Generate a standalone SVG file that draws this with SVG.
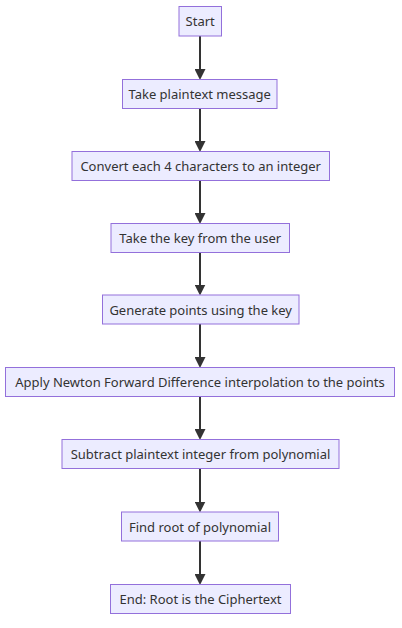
<svg xmlns="http://www.w3.org/2000/svg" width="402" height="628" viewBox="0 0 402 628">
<defs>
<style>
.node rect{fill:#ECECFF;stroke:#9370DB;stroke-width:1}
.node text{font-family:"Noto Sans","DejaVu Sans",sans-serif;font-size:13px;fill:#333;text-anchor:middle;dominant-baseline:central}
.edge{stroke:#333;stroke-width:2;fill:none}
</style>
<marker id="arrow" viewBox="0 0 10 10" refX="5" refY="5" markerWidth="11" markerHeight="11" markerUnits="userSpaceOnUse" orient="auto">
<path d="M0,0 L10,5 L0,10 z" fill="#333"/>
</marker>
</defs>
<rect width="402" height="628" fill="#fff"/>
<g id="edges">
<line class="edge" x1="200" y1="36" x2="200" y2="74.5" marker-end="url(#arrow)"/>
<line class="edge" x1="200" y1="108.5" x2="200" y2="146.5" marker-end="url(#arrow)"/>
<line class="edge" x1="200" y1="180.5" x2="200" y2="218.5" marker-end="url(#arrow)"/>
<line class="edge" x1="200" y1="252.5" x2="200" y2="290" marker-end="url(#arrow)"/>
<line class="edge" x1="200" y1="324" x2="200" y2="362.5" marker-end="url(#arrow)"/>
<line class="edge" x1="200" y1="396.5" x2="200" y2="434.5" marker-end="url(#arrow)"/>
<line class="edge" x1="200" y1="468.5" x2="200" y2="507" marker-end="url(#arrow)"/>
<line class="edge" x1="200" y1="541" x2="200" y2="579.5" marker-end="url(#arrow)"/>
</g>
<g id="start" class="node"><rect x="179" y="6.5" width="42.5" height="29.5"/><text x="200.2" y="21.2">Start</text></g>
<g id="take_message" class="node"><rect x="122.5" y="79.5" width="154.5" height="29"/><text x="199.7" y="94">Take plaintext message</text></g>
<g id="convert" class="node"><rect x="72" y="151.5" width="257.5" height="29"/><text x="200.7" y="166">Convert each 4 characters to an integer</text></g>
<g id="take_key" class="node"><rect x="111" y="223.5" width="178.5" height="29"/><text x="200.2" y="238">Take the key from the user</text></g>
<g id="generate" class="node"><rect x="102.5" y="295" width="196.5" height="29"/><text x="200.7" y="309.5">Generate points using the key</text></g>
<g id="apply" class="node"><rect x="5.5" y="367.5" width="389" height="29"/><text x="200" y="382">Apply Newton Forward Difference interpolation to the points</text></g>
<g id="subtract" class="node"><rect x="62" y="439.5" width="277" height="29"/><text x="200.5" y="454">Subtract plaintext integer from polynomial</text></g>
<g id="find_root" class="node"><rect x="121.5" y="512" width="157" height="29"/><text x="200" y="526.5">Find root of polynomial</text></g>
<g id="end" class="node"><rect x="110.5" y="584.5" width="180" height="29"/><text x="200.5" y="599">End: Root is the Ciphertext</text></g>
</svg>
